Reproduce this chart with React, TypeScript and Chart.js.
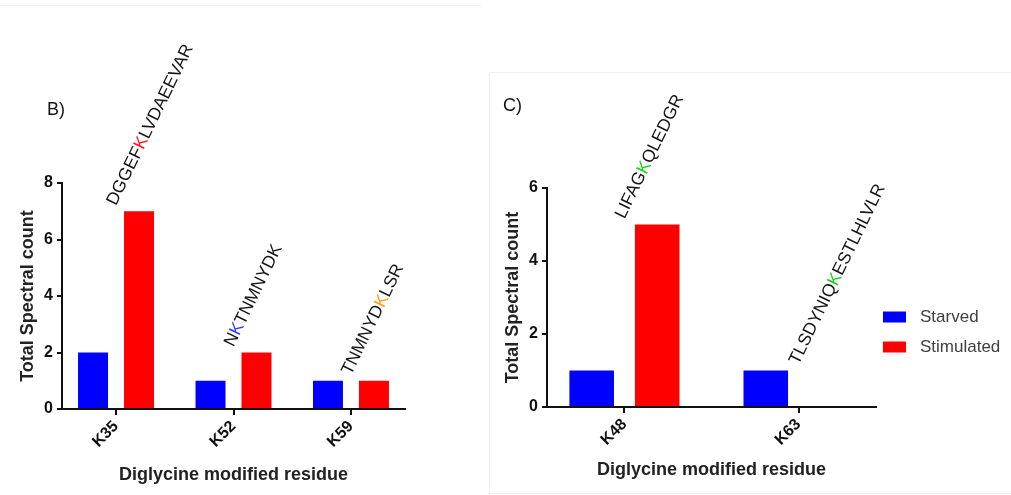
import React, { useEffect, useRef } from "react";
import { Chart, registerables } from "chart.js";

Chart.register(...registerables);

// ---------- data ----------
const seriesLabels = ["Starved", "Stimulated"];
const seriesColors = ["#0000ff", "#ff0000"];

const categoriesB = ["K35", "K52", "K59"];
const starvedB = [2, 1, 1];
const stimulatedB = [7, 2, 1];
const yTicksB = [0, 2, 4, 6, 8];
const peptideBeforeB = ["DGGEF", "N", "TNMNYD"];
const peptideSiteB = ["K", "K", "K"];
const peptideAfterB = ["LVDAEEVAR", "TNMNYDK", "LSR"];
const siteColorsB = ["#ff1a1a", "#3a3aff", "#ff9a1a"];

const categoriesC = ["K48", "K63"];
const starvedC = [1, 1];
const stimulatedC = [5, 0];
const yTicksC = [0, 2, 4, 6];
const peptideBeforeC = ["LIFAG", "TLSDYNIQ"];
const peptideSiteC = ["K", "K"];
const peptideAfterC = ["QLEDGR", "ESTLHLVLR"];
const siteColorsC = ["#1ad11a", "#1ad11a"];

const yTitle = "Total Spectral count";
const xTitle = "Diglycine modified residue";

const FAMILY = "'Liberation Sans', Arial, Helvetica, sans-serif";

type PanelProps = {
  letter: string;
  letterX: number;
  letterY: number;
  left: number;
  width: number;
  height: number;
  categories: string[];
  starved: number[];
  stimulated: number[];
  yTicks: number[];
  before: string[];
  site: string[];
  after: string[];
  siteColors: string[];
  yAxisWidth: number;
  xAxisHeight: number;
  padTop: number;
  padRight: number;
  yTitlePad: number;
  xTitlePad: number;
  edge: number;
  catPct: number;
  barPct: number;
  legend: boolean;
};

function Panel(p: PanelProps) {
  const ref = useRef<HTMLCanvasElement | null>(null);

  useEffect(() => {
    const canvas = ref.current;
    if (!canvas) return;

    const peptidePlugin = {
      id: "peptides",
      afterDatasetsDraw(chart: any) {
        const { ctx } = chart;
        const xs = chart.scales.x;
        const ys = chart.scales.y;
        ctx.save();
        ctx.font = `17.5px ${FAMILY}`;
        ctx.textAlign = "left";
        ctx.textBaseline = "alphabetic";
        p.before.forEach((b, i) => {
          const top = Math.max(p.starved[i], p.stimulated[i]);
          const x = xs.getPixelForValue(i);
          const y = ys.getPixelForValue(top) - 5;
          ctx.save();
          ctx.translate(x, y);
          ctx.rotate((-64 * Math.PI) / 180);
          const parts: [string, string][] = [
            [b, "#151515"],
            [p.site[i], p.siteColors[i]],
            [p.after[i], "#151515"],
          ];
          let cx = 0;
          for (const [t, c] of parts) {
            ctx.fillStyle = c;
            ctx.fillText(t, cx, 0);
            cx += ctx.measureText(t).width;
          }
          ctx.restore();
        });
        ctx.restore();
      },
    };

    const decorPlugin = {
      id: "decor",
      afterDraw(chart: any) {
        const { ctx, chartArea } = chart;
        ctx.save();
        ctx.font = `18px ${FAMILY}`;
        ctx.fillStyle = "#151515";
        ctx.textAlign = "left";
        ctx.textBaseline = "middle";
        ctx.fillText(p.letter, p.letterX, p.letterY);
        if (p.legend) {
          const ds = chart.data.datasets;
          ds.forEach((d: any, i: number) => {
            const sx = chartArea.right + 7;
            const sy = chartArea.top + 129 + i * 30;
            ctx.fillStyle = d.backgroundColor;
            ctx.fillRect(sx, sy - 5.5, 23, 11);
            ctx.fillStyle = "#404040";
            ctx.font = `17px ${FAMILY}`;
            ctx.fillText(d.label, sx + 37, sy);
          });
        }
        ctx.restore();
      },
    };

    const chart = new Chart(canvas, {
      type: "bar",
      data: {
        labels: p.categories,
        datasets: [
          {
            label: seriesLabels[0],
            data: p.starved,
            backgroundColor: seriesColors[0],
            categoryPercentage: p.catPct,
            barPercentage: p.barPct,
          },
          {
            label: seriesLabels[1],
            data: p.stimulated,
            backgroundColor: seriesColors[1],
            categoryPercentage: p.catPct,
            barPercentage: p.barPct,
          },
        ],
      },
      options: {
        responsive: false,
        animation: false,
        events: [],
        layout: {
          padding: { top: p.padTop, right: p.padRight, left: 0, bottom: 0 },
        },
        plugins: {
          legend: { display: false },
          tooltip: { enabled: false },
          title: { display: false },
        },
        scales: {
          x: {
            type: "category",
            offset: true,
            afterBuildTicks: (s: any) => {
              // end gap of the category axis, as a fraction of category spacing
              s._startValue = s.min - p.edge;
              s._valueRange = s.max - s.min + 2 * p.edge;
            },
            grid: {
              offset: false,
              drawOnChartArea: false,
              drawTicks: true,
              tickLength: 6,
              color: "#111",
              lineWidth: 2,
            },
            border: { display: true, color: "#111", width: 2 },
            ticks: {
              color: "#111",
              font: { size: 16, weight: "bold", family: FAMILY },
              minRotation: 45,
              maxRotation: 45,
              padding: 2,
            },
            title: {
              display: true,
              text: xTitle,
              color: "#222",
              font: { size: 18, weight: "bold", family: FAMILY },
              padding: { top: 0, bottom: p.xTitlePad },
            },
            afterFit: (s: any) => {
              s.height = p.xAxisHeight;
            },
          },
          y: {
            min: p.yTicks[0],
            max: p.yTicks[p.yTicks.length - 1],
            afterBuildTicks: (s: any) => {
              s.ticks = p.yTicks.map((v) => ({ value: v }));
            },
            grid: {
              drawOnChartArea: false,
              drawTicks: true,
              tickLength: 5,
              color: "#111",
              lineWidth: 2,
            },
            border: { display: true, color: "#111", width: 2 },
            ticks: {
              color: "#111",
              font: { size: 16, weight: "bold", family: FAMILY },
              padding: 4,
            },
            title: {
              display: true,
              text: yTitle,
              color: "#222",
              font: { size: 18, weight: "bold", family: FAMILY },
              padding: { top: p.yTitlePad, bottom: 0 },
            },
            afterFit: (s: any) => {
              s.width = p.yAxisWidth;
            },
          },
        },
      } as any,
      plugins: [peptidePlugin, decorPlugin],
    });

    return () => chart.destroy();
  }, []);

  return (
    <canvas
      ref={ref}
      width={p.width}
      height={p.height}
      style={{
        position: "absolute",
        left: p.left,
        top: 0,
        width: p.width,
        height: p.height,
        display: "block",
      }}
    />
  );
}

export default function App() {
  return (
    <div
      style={{
        position: "absolute",
        left: 0,
        top: 0,
        width: 1011,
        height: 495,
        background: "#ffffff",
        overflow: "hidden",
      }}
    >
      <div
        style={{
          position: "absolute",
          left: 0,
          top: 5,
          width: 482,
          height: 0,
          borderTop: "1px solid #f3f3f3",
        }}
      />
      <div
        style={{
          position: "absolute",
          left: 489,
          top: 72,
          width: 530,
          height: 420,
          border: "1px solid #f0f0f0",
        }}
      />
      <Panel
        letter="B)"
        letterX={47}
        letterY={110}
        left={0}
        width={485}
        height={495}
        categories={categoriesB}
        starved={starvedB}
        stimulated={stimulatedB}
        yTicks={yTicksB}
        before={peptideBeforeB}
        site={peptideSiteB}
        after={peptideAfterB}
        siteColors={siteColorsB}
        yAxisWidth={62}
        xAxisHeight={86}
        padTop={183}
        padRight={80}
        yTitlePad={17}
        xTitlePad={9}
        edge={0.46}
        catPct={0.783}
        barPct={0.652}
        legend={false}
      />
      <Panel
        letter="C)"
        letterX={13}
        letterY={106}
        left={490}
        width={521}
        height={495}
        categories={categoriesC}
        starved={starvedC}
        stimulated={stimulatedC}
        yTicks={yTicksC}
        before={peptideBeforeC}
        site={peptideSiteC}
        after={peptideAfterC}
        siteColors={siteColorsC}
        yAxisWidth={57}
        xAxisHeight={88}
        padTop={188}
        padRight={135}
        yTitlePad={12}
        xTitlePad={14}
        edge={0.445}
        catPct={0.753}
        barPct={0.68}
        legend={true}
      />
    </div>
  );
}
